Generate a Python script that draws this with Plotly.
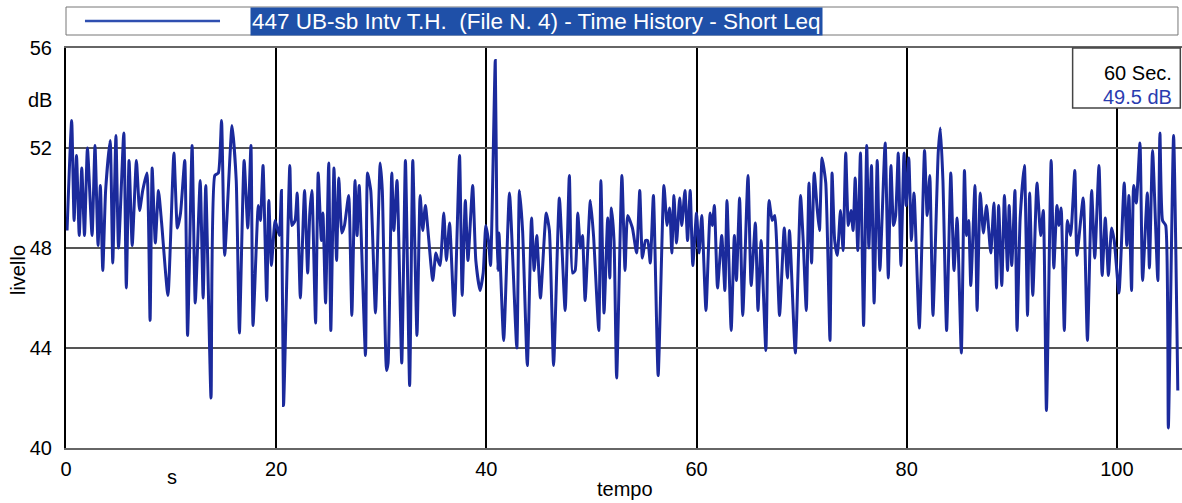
import plotly.graph_objects as go

# ---------- data (turning points) ----------
t_s = [
    0.1, 0.54, 0.77, 1.0, 1.26, 1.5, 1.76, 2.04, 2.48, 2.76, 3.05, 3.27, 3.5, 3.77, 4.2, 4.45, 4.75, 5.0,
    5.5, 5.74, 6.0, 6.3, 6.7, 7.0, 7.3, 7.7, 8.0, 8.2, 8.5, 8.8, 9.1, 9.7,
    10.27, 10.6, 10.9, 11.3, 11.57, 12.0, 12.3, 12.77, 13.05, 13.3, 13.8, 14.16, 14.5, 14.8, 15.1, 15.8,
    16.2, 16.5, 16.95, 17.3, 17.6, 17.8, 18.3, 18.5, 18.75, 19.1, 19.3, 19.55,
    19.9, 20.3, 20.5, 20.7, 21.3, 21.5, 21.8, 22.0, 22.3, 22.7, 23.0, 23.2, 23.4, 23.75, 24.0, 24.3,
    24.45, 24.7, 25.0, 25.2, 25.5, 25.75, 25.96, 26.25, 26.5, 26.9, 27.2, 27.5, 27.7, 27.9, 28.5, 28.7,
    29.0, 29.45,
    29.9, 30.1, 30.5, 30.65, 31.0, 31.2, 31.5, 31.95, 32.3, 32.7, 33.0, 33.4, 33.7, 33.95, 34.2, 34.9,
    35.2, 35.4, 35.6, 35.95, 36.2, 36.5, 36.95, 37.45, 37.7, 38.0, 38.25, 38.7, 39.0, 39.4,
    39.7, 39.95, 40.2, 40.4, 40.85, 41.0, 41.1, 41.2, 41.65, 42.2, 42.9, 43.15, 43.45, 43.9, 44.3, 44.55,
    44.8, 45.15, 45.7, 46.0, 46.4, 46.95, 47.5, 47.9, 48.2, 48.45, 48.7, 48.95, 49.15, 49.4,
    49.9, 50.2, 50.7, 50.9, 51.2, 51.55, 51.75, 51.9, 52.15, 52.4, 52.9, 53.2, 53.45, 53.9, 54.3, 54.6,
    54.85, 55.15, 55.35, 55.6, 55.9, 56.35, 56.9, 57.2, 57.45, 57.65, 57.85, 58.1, 58.4, 58.6, 58.9,
    59.15, 59.4, 59.65,
    60.0, 60.25, 60.5, 60.9, 61.3, 61.5, 61.7, 62.0, 62.4, 62.7, 62.9, 63.3, 63.6, 63.8, 64.1, 64.4,
    64.9, 65.2, 65.6, 65.85, 66.15, 66.6, 66.9, 67.2, 67.45, 67.9, 68.35, 68.65, 68.85, 69.4,
    69.9, 70.15, 70.45, 70.7, 70.95, 71.2, 71.5, 71.7, 71.95, 72.3, 72.7, 72.9, 73.15, 73.4, 73.7, 73.95,
    74.2, 74.45, 74.7, 74.9, 75.1, 75.35, 75.6, 75.9, 76.2, 76.4, 76.65, 76.9, 77.2, 77.45, 77.95, 78.25,
    78.5, 78.75, 78.95, 79.2, 79.45, 79.75,
    79.95, 80.2, 80.45, 80.7, 81.2, 81.7, 81.95, 82.2, 82.5, 83.0, 83.2, 83.45, 83.8, 84.2, 84.5, 84.8,
    85.2, 85.5, 85.7, 85.9, 86.1, 86.5, 86.7, 87.0, 87.3, 87.6, 88.0, 88.3, 88.55, 88.75, 89.05, 89.3,
    89.6, 89.75, 90.0, 90.3, 90.5, 90.8, 91.2, 91.5, 91.7, 92.0, 92.4, 92.75, 93.0, 93.3, 93.75, 94.0,
    94.3, 94.5, 94.7, 95.0, 95.3, 95.6, 96.0, 96.2, 96.8, 97.2, 97.6, 97.9, 98.3,
    98.6, 98.9, 99.2, 99.5, 99.75, 100.2, 100.7, 100.95, 101.15, 101.4, 101.6, 101.85, 102.2, 102.45,
    102.9, 103.1, 103.4, 103.9, 104.1, 104.35, 104.65, 104.9, 105.4, 105.8,
]
level_db = [
    48.7, 53.1, 49.1, 51.7, 48.5, 51.2, 48.5, 52.0, 48.5, 52.1, 48.1, 50.5, 47.1, 50.3, 52.3, 47.4, 52.5, 48.0,
    52.6, 46.4, 51.5, 48.1, 51.5, 49.5, 50.3, 51.0, 45.1, 51.2, 48.2, 50.3, 49.0, 46.1,
    51.8, 48.8, 49.4, 51.5, 44.5, 52.1, 45.8, 50.7, 46.0, 50.5, 42.0, 50.9, 51.0, 53.1, 47.7, 52.9,
    50.7, 44.6, 51.5, 48.8, 52.1, 44.9, 49.7, 49.1, 51.3, 45.9, 49.9, 47.3,
    49.1, 48.5, 50.3, 41.7, 51.3, 48.9, 49.1, 50.2, 46.0, 50.3, 47.0, 49.4, 50.3, 45.0, 51.0, 48.3,
    49.4, 45.8, 51.4, 44.7, 51.2, 47.5, 50.8, 48.6, 48.9, 50.1, 45.3, 50.7, 48.5, 50.5, 43.7, 51.0,
    50.3, 45.4,
    51.4, 50.3, 43.1, 43.4, 51.0, 48.7, 50.7, 43.4, 51.5, 42.5, 51.5, 44.5, 50.1, 48.7, 49.7, 46.7,
    47.8, 47.5, 47.3, 49.4, 47.5, 49.0, 45.3, 51.7, 46.1, 49.9, 47.5, 50.5, 47.5, 46.3,
    47.0, 48.9, 48.3, 47.3, 55.5, 48.9, 47.1, 48.6, 44.3, 50.2, 44.0, 50.3, 48.7, 43.3, 49.2, 47.1,
    48.5, 46.0, 49.4, 48.7, 43.3, 50.0, 45.5, 50.9, 47.0, 47.1, 49.4, 48.0, 48.5, 45.9,
    49.9, 48.5, 44.7, 50.7, 45.4, 49.2, 46.8, 49.6, 48.3, 42.8, 50.9, 47.1, 49.3, 48.8, 47.8, 50.3,
    47.6, 48.3, 48.3, 47.4, 50.1, 42.9, 50.5, 48.9, 49.6, 47.8, 50.1, 48.2, 50.0, 48.9, 50.3,
    48.3, 50.3, 47.3,
    49.4, 47.8, 49.3, 45.5, 49.4, 48.9, 49.7, 46.4, 48.5, 46.3, 49.9, 44.7, 48.5, 46.7, 50.0, 45.3,
    50.9, 46.5, 49.0, 45.5, 48.3, 43.9, 49.9, 49.1, 49.3, 45.3, 48.8, 46.8, 48.7, 43.8,
    50.1, 48.3, 45.5, 50.6, 47.4, 51.0, 49.5, 48.7, 51.6, 50.6, 44.3, 51.0, 48.3, 47.7, 49.5, 47.9,
    51.8, 48.9, 49.5, 48.7, 50.8, 47.9, 51.8, 44.9, 52.1, 48.0, 51.3, 45.8, 51.5, 47.1, 52.2, 46.8,
    51.3, 48.9, 49.3, 51.8, 47.3, 51.8,
    49.7, 51.6, 48.3, 50.2, 44.8, 51.9, 49.3, 50.9, 45.3, 51.8, 52.8, 50.7, 44.7, 51.0, 47.1, 49.2,
    43.8, 51.1, 48.5, 49.1, 46.5, 50.5, 45.5, 50.2, 48.6, 49.7, 47.8, 49.8, 46.4, 49.7, 46.5, 50.1,
    47.1, 49.7, 47.3, 50.3, 44.7, 49.2, 51.3, 45.3, 50.2, 46.1, 50.6, 48.5, 49.5, 41.5, 51.5, 47.2,
    49.7, 48.9, 49.6, 44.7, 49.1, 48.5, 51.1, 47.7, 50.0, 44.3, 50.3, 47.6, 51.3,
    46.9, 49.2, 46.9, 48.8, 48.3, 46.2, 50.6, 48.1, 50.1, 46.3, 50.5, 49.8, 52.2, 46.7,
    50.2, 47.2, 51.9, 46.7, 52.6, 49.1, 48.9, 40.8, 52.5, 42.3,
]

x_ticks = [0, 20, 40, 60, 80, 100]
y_ticks = [40, 44, 48, 52, 56]
series_name = "447 UB-sb Intv T.H.  (File N. 4) - Time History - Short Leq"
cursor_time = "60 Sec."
cursor_level = "49.5 dB"

FONT = "Liberation Sans"
LINE_BLUE = "#1b2a9c"

fig = go.Figure()
fig.add_trace(go.Scatter(
    x=t_s, y=level_db, mode="lines", name=series_name,
    line=dict(color=LINE_BLUE, width=3, shape="spline", smoothing=0.5),
    showlegend=False,
))

fig.update_layout(
    width=1182, height=503,
    margin=dict(l=66, r=0, t=48, b=55),
    paper_bgcolor="white", plot_bgcolor="white",
    font=dict(family=FONT, size=20, color="black"),
    xaxis=dict(
        range=[0, 106.2], tickvals=x_ticks, ticktext=[str(v) for v in x_ticks],
        showgrid=True, gridcolor="black", gridwidth=1.5, zeroline=False,
        showline=True, linecolor="#666", linewidth=2, mirror=True,
        ticklabelstandoff=2,
    ),
    yaxis=dict(
        range=[40, 56], tickvals=y_ticks, ticktext=[str(v) for v in y_ticks],
        showgrid=True, gridcolor="#555", gridwidth=2, zeroline=False,
        showline=True, linecolor="black", linewidth=2,
        ticklabelstandoff=8,
    ),
)

# legend strip above the plot
fig.add_shape(type="rect", xref="paper", yref="paper", x0=0, x1=0.9964, y0=1.0325, y1=1.1025,
              line=dict(color="#777", width=1), fillcolor="white")
fig.add_shape(type="line", xref="paper", yref="paper", x0=0.017, x1=0.138, y0=1.0675, y1=1.0675,
              line=dict(color="#2f4fb0", width=2.5))
fig.add_annotation(xref="paper", yref="paper", x=0.1649, y=1.0675, xanchor="left", yanchor="middle",
                   text=series_name, showarrow=False, bgcolor="#1f50a8", borderpad=1,
                   font=dict(family=FONT, size=22.5, color="white"))

# cursor readout box
fig.add_shape(type="rect", xref="paper", yref="paper", x0=0.902, x1=0.9985, y0=0.85, y1=1.0,
              line=dict(color="#444", width=1.5), fillcolor="white", layer="above")
fig.add_annotation(xref="paper", yref="paper", x=0.993, y=0.9375, xanchor="right", yanchor="middle",
                   text=cursor_time, showarrow=False, font=dict(family=FONT, size=20, color="black"))
fig.add_annotation(xref="paper", yref="paper", x=0.993, y=0.8775, xanchor="right", yanchor="middle",
                   text=cursor_level, showarrow=False, font=dict(family=FONT, size=20, color="#2a3cb0"))

# axis captions
fig.add_annotation(xref="paper", yref="paper", x=-0.0233, y=0.87, xanchor="center", yanchor="middle",
                   text="dB", showarrow=False, font=dict(family=FONT, size=20))
fig.add_annotation(xref="paper", yref="paper", x=-0.043, y=0.445, xanchor="center", yanchor="middle",
                   text="livello", showarrow=False, textangle=-90, font=dict(family=FONT, size=20))
fig.add_annotation(xref="paper", yref="paper", x=0.095, y=-0.0725, xanchor="center", yanchor="middle",
                   text="s", showarrow=False, font=dict(family=FONT, size=20))
fig.add_annotation(xref="paper", yref="paper", x=0.501, y=-0.1025, xanchor="center", yanchor="middle",
                   text="tempo", showarrow=False, font=dict(family=FONT, size=20))

fig.write_html("out.html", config={"displayModeBar": False},
               post_script="document.body.style.margin='0';")
